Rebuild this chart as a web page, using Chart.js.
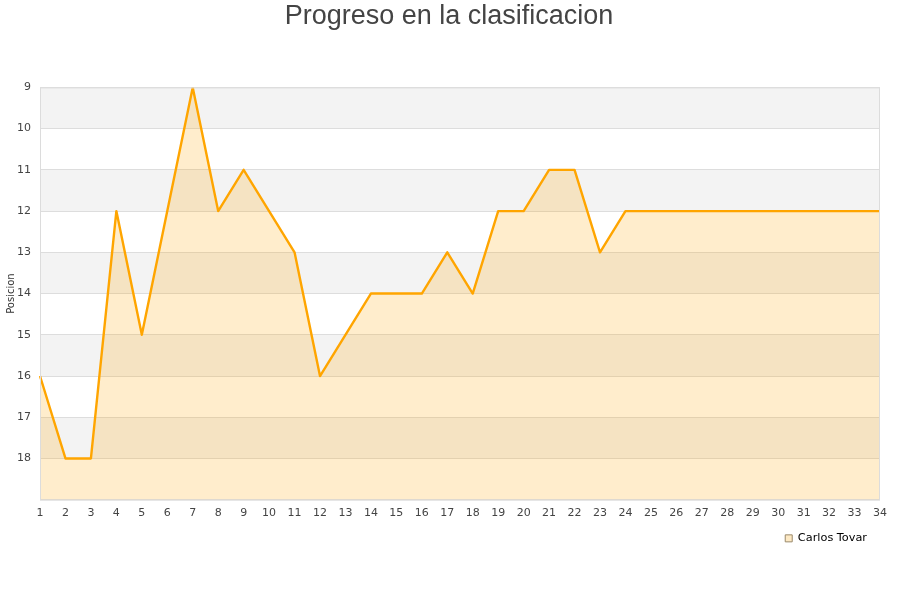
<!DOCTYPE html>
<html>
<head>
<meta charset="utf-8">
<script src="https://cdn.jsdelivr.net/npm/chart.js@4/dist/chart.umd.min.js"></script>
<style>
  html, body { margin: 0; padding: 0; background: #fff; }
  #wrap { width: 900px; height: 600px; }
</style>
</head>
<body>
<div id="wrap"><canvas id="chart" width="900" height="600"></canvas></div>
<script>
// Jornadas y posiciones
const jornadas = ['1','2','3','4','5','6','7','8','9','10','11','12','13','14','15','16','17',
  '18','19','20','21','22','23','24','25','26','27','28','29','30','31','32','33','34'];
const posiciones = [16, 18, 18, 12, 15, 12, 9, 12, 11, 12, 13, 16, 15, 14, 14, 14, 13,
  14, 12, 12, 11, 11, 13, 12, 12, 12, 12, 12, 12, 12, 12, 12, 12, 12];
const posMin = 9;
const posMax = 19;

// Bandas grises alternas detras del grafico
const bandsPlugin = {
  id: 'bands',
  beforeDraw(chart) {
    const { ctx, chartArea, scales } = chart;
    const y = scales.y;
    ctx.save();
    ctx.fillStyle = '#f3f3f3';
    for (let v = posMin; v < posMax; v += 2) {
      const y1 = y.getPixelForValue(v);
      const y2 = y.getPixelForValue(v + 1);
      ctx.fillRect(chartArea.left, Math.min(y1, y2), chartArea.right - chartArea.left, Math.abs(y2 - y1));
    }
    ctx.restore();
  },
  afterDraw(chart) {
    const { ctx, chartArea } = chart;
    ctx.save();
    ctx.strokeStyle = '#dcdcdc';
    ctx.lineWidth = 1;
    ctx.strokeRect(chartArea.left + 0.5, chartArea.top + 0.5, chartArea.right - chartArea.left - 1, chartArea.bottom - chartArea.top);
    ctx.restore();
  }
};

new Chart(document.getElementById('chart'), {
  type: 'line',
  data: {
    labels: jornadas,
    datasets: [{
      label: 'Carlos Tovar',
      data: posiciones,
      borderColor: '#ffa500',
      backgroundColor: 'rgba(255, 165, 0, 0.2)',
      borderWidth: 2.4,
      borderJoinStyle: 'round',
      pointRadius: 0,
      tension: 0,
      fill: 'start'
    }]
  },
  options: {
    responsive: false,
    animation: false,
    layout: { padding: { left: 18, right: 20, top: 0, bottom: 46 } },
    plugins: {
      title: {
        display: true,
        text: 'Progreso en la clasificacion',
        color: '#444',
        font: { family: 'Liberation Sans', size: 27, weight: 'normal' },
        padding: { top: 0, bottom: 55 }
      },
      legend: {
        position: 'bottom',
        align: 'end',
        labels: {
          color: '#222',
          font: { family: 'DejaVu Sans', size: 11.3 },
          boxWidth: 7,
          boxHeight: 7,
          padding: 13,
          generateLabels(chart) {
            const ds = chart.data.datasets[0];
            return [{
              text: ds.label,
              fillStyle: '#fde9c4',
              strokeStyle: '#9a8a6a',
              lineWidth: 1,
              datasetIndex: 0
            }];
          }
        }
      },
      tooltip: { enabled: false }
    },
    scales: {
      x: {
        offset: false,
        grid: { display: false, drawTicks: false },
        border: { display: false },
        ticks: {
          color: '#444',
          font: { family: 'DejaVu Sans', size: 11 },
          maxRotation: 0,
          autoSkip: false,
          padding: 7
        },
        afterFit(scale) { scale.height = 20; }
      },
      y: {
        reverse: true,
        min: posMin,
        max: posMax,
        grid: { color: '#dddddd', drawTicks: false },
        border: { display: false },
        title: {
          display: true,
          text: 'Posicion',
          color: '#333',
          font: { family: 'DejaVu Sans', size: 10 },
          padding: { top: -13, bottom: 0 }
        },
        ticks: {
          stepSize: 1,
          color: '#444',
          font: { family: 'DejaVu Sans', size: 11 },
          padding: 9,
          callback: (v) => (v === posMax ? '' : v)
        },
        afterFit(scale) { scale.width = 22; }
      }
    }
  },
  plugins: [bandsPlugin]
});
</script>
</body>
</html>
